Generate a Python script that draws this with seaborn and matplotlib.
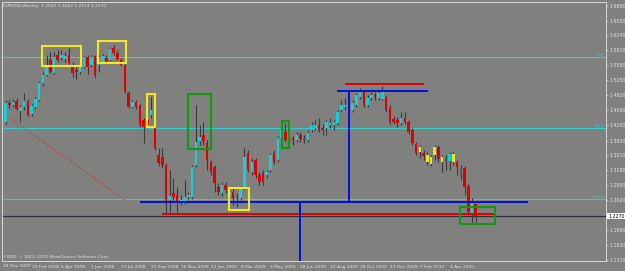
import numpy as np
import pandas as pd
import matplotlib
matplotlib.use("Agg")
import matplotlib.pyplot as plt
import matplotlib.transforms as mtransforms
from matplotlib.patches import Rectangle
import seaborn as sns

# ---------------- data (EURUSD weekly) ----------------
opens = [1.434, 1.475, 1.471, 1.480, 1.458, 1.467, 1.480, 1.451, 1.467, 1.482,
         1.519, 1.537, 1.570, 1.541, 1.581, 1.574, 1.572, 1.581, 1.557, 1.548,
         1.543, 1.554, 1.576, 1.559, 1.578, 1.559, 1.565, 1.574, 1.570, 1.596,
         1.585, 1.570, 1.559, 1.497, 1.467, 1.478, 1.471, 1.438, 1.438, 1.449,
         1.420, 1.361, 1.357, 1.339, 1.263, 1.278, 1.274, 1.256, 1.258, 1.269,
         1.269, 1.339, 1.392, 1.405, 1.388, 1.346, 1.335, 1.291, 1.278, 1.296,
         1.274, 1.280, 1.271, 1.267, 1.289, 1.366, 1.324, 1.350, 1.317, 1.322,
         1.317, 1.328, 1.366, 1.350, 1.399, 1.412, 1.396, 1.399, 1.394, 1.405,
         1.396, 1.394, 1.416, 1.420, 1.427, 1.420, 1.420, 1.427, 1.427, 1.431,
         1.460, 1.467, 1.471, 1.460, 1.471, 1.488, 1.499, 1.471, 1.486, 1.493,
         1.486, 1.484, 1.486, 1.464, 1.440, 1.438, 1.431, 1.442, 1.434, 1.416,
         1.385, 1.379, 1.366, 1.361, 1.357, 1.361, 1.379, 1.357, 1.353, 1.348,
         1.363, 1.346, 1.333, 1.333, 1.293, 1.234, 1.2547]
highs = [1.482, 1.482, 1.484, 1.486, 1.471, 1.497, 1.484, 1.473, 1.488, 1.524,
         1.543, 1.581, 1.587, 1.587, 1.592, 1.592, 1.587, 1.596, 1.565, 1.557,
         1.561, 1.581, 1.581, 1.581, 1.581, 1.581, 1.583, 1.581, 1.598, 1.603,
         1.592, 1.574, 1.561, 1.502, 1.482, 1.482, 1.473, 1.442, 1.442, 1.488,
         1.425, 1.377, 1.377, 1.344, 1.328, 1.311, 1.291, 1.274, 1.307, 1.280,
         1.339, 1.471, 1.427, 1.434, 1.394, 1.350, 1.339, 1.300, 1.302, 1.302,
         1.289, 1.291, 1.278, 1.293, 1.377, 1.372, 1.355, 1.355, 1.324, 1.328,
         1.328, 1.366, 1.372, 1.403, 1.431, 1.431, 1.405, 1.403, 1.412, 1.412,
         1.405, 1.416, 1.434, 1.438, 1.442, 1.429, 1.438, 1.442, 1.438, 1.460,
         1.482, 1.486, 1.482, 1.482, 1.497, 1.508, 1.504, 1.493, 1.499, 1.499,
         1.504, 1.513, 1.493, 1.471, 1.447, 1.445, 1.456, 1.456, 1.438, 1.420,
         1.390, 1.383, 1.372, 1.368, 1.361, 1.383, 1.383, 1.361, 1.361, 1.368,
         1.368, 1.350, 1.339, 1.337, 1.298, 1.267, 1.2562]
lows = [1.429, 1.464, 1.467, 1.460, 1.434, 1.460, 1.447, 1.447, 1.462, 1.480,
        1.513, 1.535, 1.541, 1.539, 1.565, 1.570, 1.565, 1.561, 1.532, 1.528,
        1.539, 1.552, 1.539, 1.554, 1.530, 1.543, 1.563, 1.563, 1.567, 1.581,
        1.570, 1.557, 1.497, 1.464, 1.464, 1.462, 1.423, 1.388, 1.420, 1.442,
        1.372, 1.337, 1.333, 1.234, 1.236, 1.263, 1.236, 1.252, 1.254, 1.265,
        1.265, 1.335, 1.383, 1.383, 1.328, 1.317, 1.280, 1.274, 1.271, 1.278,
        1.267, 1.252, 1.247, 1.263, 1.285, 1.324, 1.317, 1.311, 1.296, 1.296,
        1.311, 1.324, 1.342, 1.346, 1.394, 1.390, 1.377, 1.383, 1.390, 1.390,
        1.388, 1.390, 1.412, 1.416, 1.412, 1.405, 1.405, 1.420, 1.416, 1.427,
        1.456, 1.460, 1.456, 1.456, 1.467, 1.484, 1.467, 1.467, 1.482, 1.482,
        1.482, 1.482, 1.456, 1.429, 1.429, 1.423, 1.427, 1.429, 1.407, 1.383,
        1.361, 1.355, 1.350, 1.339, 1.337, 1.350, 1.346, 1.324, 1.328, 1.328,
        1.339, 1.317, 1.307, 1.274, 1.230, 1.212, 1.2153]
closes = [1.475, 1.471, 1.478, 1.462, 1.467, 1.480, 1.449, 1.469, 1.484, 1.519,
          1.537, 1.559, 1.543, 1.576, 1.570, 1.581, 1.578, 1.563, 1.541, 1.543,
          1.554, 1.576, 1.554, 1.576, 1.537, 1.576, 1.578, 1.567, 1.594, 1.585,
          1.572, 1.559, 1.499, 1.467, 1.478, 1.467, 1.427, 1.423, 1.427, 1.460,
          1.377, 1.344, 1.339, 1.256, 1.271, 1.269, 1.256, 1.263, 1.269, 1.274,
          1.335, 1.390, 1.401, 1.392, 1.350, 1.324, 1.300, 1.280, 1.296, 1.285,
          1.280, 1.267, 1.269, 1.289, 1.357, 1.328, 1.346, 1.317, 1.302, 1.302,
          1.324, 1.361, 1.346, 1.399, 1.416, 1.394, 1.394, 1.394, 1.405, 1.396,
          1.394, 1.410, 1.427, 1.427, 1.416, 1.416, 1.434, 1.431, 1.434, 1.456,
          1.471, 1.471, 1.464, 1.475, 1.493, 1.499, 1.471, 1.486, 1.493, 1.488,
          1.497, 1.499, 1.460, 1.434, 1.434, 1.431, 1.442, 1.434, 1.412, 1.388,
          1.366, 1.368, 1.359, 1.346, 1.342, 1.379, 1.353, 1.346, 1.348, 1.363,
          1.346, 1.335, 1.317, 1.291, 1.236, 1.256, 1.2270]
yellow_bars = [111, 113, 114, 115, 117, 120]
gray_bars = [62, 76, 118, 122]

price_ticks = [1.6880, 1.6550, 1.6240, 1.5910, 1.5580, 1.5250, 1.4920, 1.4590,
               1.4260, 1.3930, 1.3610, 1.3280, 1.2950, 1.2620, 1.1960, 1.1630, 1.1310]
first_date_label = "28 Dec 2007"
date_labels = ["10 Feb 2008", "6 Apr 2008", "1 Jun 2008", "27 Jul 2008", "21 Sep 2008",
               "16 Nov 2008", "11 Jan 2009", "8 Mar 2009", "3 May 2009", "28 Jun 2009",
               "23 Aug 2009", "18 Oct 2009", "13 Dec 2009", "7 Feb 2010", "4 Apr 2010"]
date_bars = [7, 15, 23, 31, 39, 47, 55, 63, 71, 79, 87, 95, 103, 111, 119]

fib_levels = [1.5762, 1.4205, 1.2648]
fib_names = ["0.0", "50.0", "100.0"]
current_price = 1.2270
title = "EURUSD,Weekly  1.2547 1.2562 1.2153 1.2270"
copyright_text = "FXDD, \u00a9 2001-2010 MetaQuotes Software Corp."

# drawn analysis objects (bar index / price)
blue_top_level, blue_top_span = 1.5016, (88.8, 113.2)
red_top_level, red_top_span = 1.5170, (91.0, 112.1)
blue_low_level, blue_low_span = 1.2582, (36.0, 140.0)
red_low_level, red_low_span = 1.2319, (41.9, 131.2)
blue_vert_bar = 92.0
blue_vert2_bar = 78.9
diag_bars = [1.2, 32.0]
diag_prices = [1.4424, 1.2626]
box_x0 = [9.8, 24.8, 37.9, 48.9, 59.9, 74.1, 121.8]
box_x1 = [20.2, 32.3, 40.1, 55.1, 65.2, 75.9, 131.2]
box_y0 = [1.5558, 1.5630, 1.4227, 1.3745, 1.2407, 1.3767, 1.2100]
box_y1 = [1.6003, 1.6113, 1.4951, 1.4951, 1.2889, 1.4359, 1.2473]
box_kind = ["yellow", "yellow", "yellow", "green", "yellow", "green", "green"]

# ---------------- style ----------------
BG = "#80807e"
UP = "#19cfd6"
DOWN = "#e00000"
YEL = "#e8e820"
GRY = "#5a5a5a"
WICK = "#3a3a3a"
FIB = "#2fd0d0"
TXT = "#e4e4e4"

sns.set_style("dark", {"axes.facecolor": BG, "figure.facecolor": BG})
plt.rcParams['font.family'] = ['DejaVu Sans']

df = pd.DataFrame({"open": opens, "high": highs, "low": lows, "close": closes})
df["bar"] = np.arange(len(df))
df["bottom"] = df[["open", "close"]].min(axis=1)
df["height"] = (df["open"] - df["close"]).abs().clip(lower=0.0022)
df["color"] = np.where(df["close"] >= df["open"], UP, DOWN)
df.loc[df["bar"].isin(yellow_bars), "color"] = YEL
df.loc[df["bar"].isin(gray_bars), "color"] = GRY

fig = plt.figure(figsize=(6.25, 2.71), dpi=100)
ax = fig.add_axes([2 / 625, 10 / 271, 604 / 625, 259 / 271])
ax.set_facecolor(BG)

# fib lines
for lvl, name in zip(fib_levels, fib_names):
    ax.axhline(lvl, color=FIB, lw=0.8, zorder=1)
    ax.text(0.997, lvl, name, color=FIB, fontsize=3.2, ha="right", va="bottom",
            transform=mtransforms.blended_transform_factory(ax.transAxes, ax.transData))

# current price line
ax.axhline(current_price, color="#2e2e3a", lw=0.9, zorder=1)

# candles
ax.vlines(df["bar"], df["low"], df["high"], color=WICK, lw=0.8, zorder=2)
ax.bar(df["bar"], df["height"], bottom=df["bottom"], width=0.68,
       color=df["color"], linewidth=0, zorder=3)

# dotted diagonal
sns.lineplot(x=diag_bars, y=diag_prices, ax=ax, color="#d83030", lw=0.9,
             linestyle=(0, (1, 1.6)), zorder=2)

# analysis lines
ax.hlines(blue_top_level, *blue_top_span, color="#0010e0", lw=1.4, zorder=4)
ax.hlines(red_top_level, *red_top_span, color=DOWN, lw=1.4, zorder=4)
ax.hlines(blue_low_level, *blue_low_span, color="#0010e0", lw=1.4, zorder=4)
ax.hlines(red_low_level, *red_low_span, color=DOWN, lw=1.4, zorder=4)
ax.vlines(blue_vert_bar, blue_low_level, blue_top_level, color="#0010e0", lw=1.4, zorder=4)

YMIN, YMAX = 1.1288, 1.6968
ax.vlines(blue_vert2_bar, YMIN, blue_low_level, color="#0010e0", lw=1.4, zorder=4)

for x0, x1, y0, y1, kind in zip(box_x0, box_x1, box_y0, box_y1, box_kind):
    ec = "#f2e81c" if kind == "yellow" else "#0f9a12"
    ax.add_patch(Rectangle((x0, y0), x1 - x0, y1 - y0, fill=False, ec=ec, lw=1.5, zorder=5))

ax.set_xlim(-0.94, 160.9)
ax.set_ylim(YMIN, YMAX)

# axes / ticks
for side in ["top", "left", "right", "bottom"]:
    ax.spines[side].set_visible(True)
    ax.spines[side].set_color("#d8d8d8")
    ax.spines[side].set_linewidth(0.7)
ax.yaxis.tick_right()
ax.set_yticks(price_ticks)
ax.set_yticklabels([f"{v:.4f}" for v in price_ticks])
ax.tick_params(axis="y", colors=TXT, labelsize=3.4, length=1.5, width=0.5, pad=1.2,
               labelcolor=TXT)
ax.set_xticks(date_bars)
ax.set_xticklabels(date_labels)
for lab in ax.get_xticklabels():
    lab.set_horizontalalignment("left")
ax.tick_params(axis="x", colors=TXT, labelsize=3.2, length=2, width=0.5, pad=0.8,
               labelcolor=TXT)
ax.text(0.002, -0.012, first_date_label, transform=ax.transAxes, fontsize=3.2,
        color=TXT, ha="left", va="top")
ax.grid(False)

# current price tag
ax.annotate(f"{current_price:.4f}", xy=(1.0, current_price),
            xycoords=mtransforms.blended_transform_factory(ax.transAxes, ax.transData),
            xytext=(1.5, 0), textcoords="offset points", fontsize=3.4, color="black",
            ha="left", va="center", annotation_clip=False,
            bbox=dict(boxstyle="square,pad=0.15", fc="white", ec="none"))

ax.text(0.002, 0.993, title, transform=ax.transAxes, fontsize=3.2, color=TXT,
        ha="left", va="top")
ax.text(0.003, 0.006, copyright_text, transform=ax.transAxes, fontsize=3.2, color=TXT,
        ha="left", va="bottom")

fig.savefig("out.png", dpi=100, facecolor=BG)
